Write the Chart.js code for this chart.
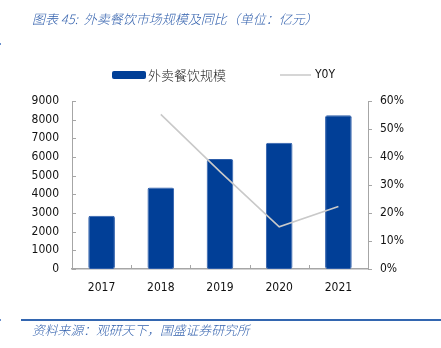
<!DOCTYPE html>
<html>
<head>
<meta charset="utf-8">
<script src="https://cdn.jsdelivr.net/npm/chart.js@4/dist/chart.umd.min.js"></script>
<style>
  html, body { margin: 0; padding: 0; background: #fff; }
  #wrap { position: relative; width: 441px; height: 348px; overflow: hidden; background: #fff; }
  #c { position: absolute; left: 0; top: 0; }
  .cap { position: absolute; font-family: "Noto Sans CJK SC", sans-serif; font-style: italic; font-size: 13px; color: #3462AE; white-space: nowrap; line-height: 16px; font-weight: 300; }
  #title { left: 32px; top: 11px; }
  #src { left: 32px; top: 322px; font-size: 12.8px; }
  #rule { position: absolute; left: 21px; top: 319px; width: 420px; height: 2px; background: #3366B0; }
  .mk { position: absolute; left: 0; width: 1px; height: 2px; background: #6A8FCC; }
</style>
</head>
<body>
<div id="wrap">
  <canvas id="c" width="441" height="348"></canvas>
  <div class="cap" id="title">图表 45:&nbsp; 外卖餐饮市场规模及同比（单位：亿元）</div>
  <div id="rule"></div>
  <div class="mk" style="top:43px"></div>
  <div class="mk" style="top:319px"></div>
  <div class="cap" id="src">资料来源：观研天下，国盛证券研究所</div>
</div>
<script>
const categories = ["2017", "2018", "2019", "2020", "2021"];
const marketSize = [2850, 4360, 5890, 6760, 8230];
const yoy = [null, 55.2, 34.8, 15.1, 22.3];
const leftTicks = [0, 1000, 2000, 3000, 4000, 5000, 6000, 7000, 8000, 9000];
const rightTicks = ["0%", "10%", "20%", "30%", "40%", "50%", "60%"];
const seriesNames = ["外卖餐饮规模", "Y0Y"];

const BAR = "#013F97";
const LINE = "#C9C9C9";
const AXIS = "#A6A6A6";
const TICKFONT = { family: "'DejaVu Sans Condensed', 'DejaVu Sans', sans-serif", size: 12 };

const innerTicks = {
  id: "innerTicks",
  beforeDatasetsDraw(chart) {
    const ctx = chart.ctx;
    const x = chart.scales.x, y = chart.scales.y;
    const ca = chart.chartArea;
    ctx.save();
    ctx.strokeStyle = AXIS;
    ctx.lineWidth = 1;
    ctx.beginPath();
    y.ticks.forEach(t => {
      const py = Math.round(y.getPixelForValue(t.value)) + 0.5;
      ctx.moveTo(ca.left, py);
      ctx.lineTo(ca.left + 4, py);
    });
    for (let i = 0; i < categories.length - 1; i++) {
      const px = Math.round((x.getPixelForValue(i) + x.getPixelForValue(i + 1)) / 2) + 0.5;
      ctx.moveTo(px, ca.bottom);
      ctx.lineTo(px, ca.bottom - 4);
    }
    ctx.stroke();
    ctx.restore();
  }
};

const customLegend = {
  id: "customLegend",
  afterDraw(chart) {
    const ctx = chart.ctx;
    ctx.save();
    ctx.fillStyle = BAR;
    ctx.beginPath();
    if (ctx.roundRect) ctx.roundRect(112, 71, 34, 8, 2); else ctx.rect(112, 71, 34, 8);
    ctx.fill();
    ctx.fillStyle = "#222";
    ctx.textBaseline = "middle";
    ctx.font = "300 13px 'Noto Sans CJK SC', sans-serif";
    ctx.fillText(seriesNames[0], 148, 75);
    ctx.strokeStyle = LINE;
    ctx.lineWidth = 1.5;
    ctx.beginPath();
    ctx.moveTo(280, 75);
    ctx.lineTo(311, 75);
    ctx.stroke();
    ctx.fillStyle = "#111";
    ctx.font = "12px 'DejaVu Sans Condensed', 'DejaVu Sans', sans-serif";
    ctx.fillText(seriesNames[1], 315, 75);
    ctx.restore();
  }
};

new Chart(document.getElementById("c"), {
  data: {
    labels: categories,
    datasets: [
      {
        type: "line",
        label: seriesNames[1],
        data: yoy,
        yAxisID: "y1",
        borderColor: LINE,
        borderWidth: 1.6,
        pointRadius: 0,
        tension: 0,
        order: 0
      },
      {
        type: "bar",
        label: seriesNames[0],
        data: marketSize,
        yAxisID: "y",
        backgroundColor: BAR,
        borderColor: "#2D5DAA",
        borderWidth: 1,
        borderRadius: 2,
        borderSkipped: false,
        barPercentage: 0.45,
        categoryPercentage: 1,
        order: 1
      }
    ]
  },
  options: {
    responsive: false,
    animation: false,
    devicePixelRatio: 1,
    layout: { padding: { left: 0, right: 0, top: 101, bottom: 49 } },
    plugins: { legend: { display: false }, tooltip: { enabled: false }, title: { display: false } },
    scales: {
      x: {
        offset: true,
        grid: { display: false, drawTicks: false },
        border: { display: true, color: AXIS, width: 1.5 },
        ticks: { font: TICKFONT, color: "#111", padding: 12, maxRotation: 0 },
        afterFit(s) { s.height = 30; }
      },
      y: {
        position: "left",
        min: 0, max: 9000,
        afterBuildTicks(s) { s.ticks = leftTicks.map(v => ({ value: v })); },
        grid: { display: false, drawTicks: false },
        border: { display: true, color: AXIS, width: 1 },
        ticks: { font: TICKFONT, color: "#111", padding: 13, callback: (v) => String(v) },
        afterFit(s) { s.width = 72; }
      },
      y1: {
        position: "right",
        min: 0, max: 60,
        afterBuildTicks(s) { s.ticks = rightTicks.map(t => ({ value: parseFloat(t) })); },
        grid: { display: true, drawOnChartArea: false, drawTicks: true, tickLength: 4, color: AXIS },
        border: { display: true, color: AXIS, width: 1 },
        ticks: { font: TICKFONT, color: "#111", padding: 8, callback: (v) => v + "%" },
        afterFit(s) { s.width = 73; }
      }
    }
  },
  plugins: [innerTicks, customLegend]
});
</script>
</body>
</html>
